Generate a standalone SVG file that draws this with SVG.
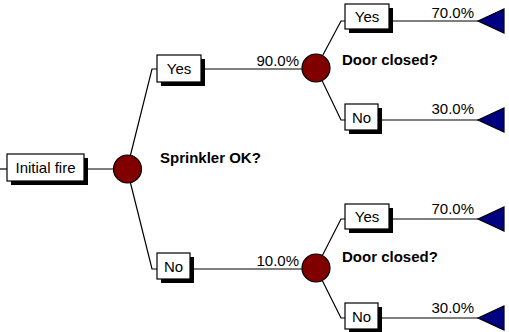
<svg xmlns="http://www.w3.org/2000/svg" width="509" height="332" viewBox="0 0 509 332">
<style>
.ln{stroke:#000;stroke-width:1.2;fill:none}
.sh{fill:#000}
.bx{fill:#fff;stroke:#000;stroke-width:1.2}
.t{font-family:"Liberation Sans",Arial,sans-serif;font-size:15px;fill:#000}
.c{text-anchor:middle}
.r{text-anchor:end}
.b{font-weight:bold}
.ch{fill:#800000;stroke:#000;stroke-width:1.2}
.tr{fill:#000080;stroke:#000;stroke-width:1.2}
</style>
<rect width="509" height="332" fill="#fff"/>
<g id="connectors">
<line class="ln" x1="0" y1="169" x2="7" y2="169"/>
<line class="ln" x1="84" y1="169" x2="127" y2="169"/>
<polyline class="ln" points="127,169 152,69 157,69"/>
<polyline class="ln" points="127,169 152,269 157,269"/>
<line class="ln" x1="201" y1="69" x2="316" y2="69"/>
<line class="ln" x1="190" y1="269" x2="316" y2="269"/>
<polyline class="ln" points="316,68 341,21 345,21"/>
<polyline class="ln" points="316,68 341,120 345,120"/>
<polyline class="ln" points="316,268 341,219 345,219"/>
<polyline class="ln" points="316,268 341,318 345,318"/>
<line class="ln" x1="389" y1="21" x2="478" y2="21"/>
<line class="ln" x1="378" y1="120" x2="478" y2="120"/>
<line class="ln" x1="389" y1="219" x2="478" y2="219"/>
<line class="ln" x1="378" y1="318" x2="478" y2="318"/>
<text class="t r" x="299" y="66">90.0%</text>
<text class="t r" x="299" y="266">10.0%</text>
<text class="t r" x="474" y="18">70.0%</text>
<text class="t r" x="474" y="114">30.0%</text>
<text class="t r" x="474" y="214">70.0%</text>
<text class="t r" x="474" y="313">30.0%</text>
</g>
<g id="initial">
<rect class="sh" x="11" y="158" width="77" height="27"/>
<rect class="bx" x="7" y="154" width="77" height="27"/>
<text class="t c" x="45.5" y="173">Initial fire</text>
</g>
<g id="sprinkler">
<circle class="ch" cx="127.5" cy="169" r="14"/>
<text class="t b" x="160" y="163">Sprinkler OK?</text>
</g>
<g id="yes1">
<rect class="sh" x="161" y="59" width="44" height="27"/>
<rect class="bx" x="157" y="55" width="44" height="27"/>
<text class="t c" x="179" y="74">Yes</text>
</g>
<g id="no1">
<rect class="sh" x="161" y="257" width="33" height="26"/>
<rect class="bx" x="157" y="253" width="33" height="26"/>
<text class="t c" x="173.5" y="271.5">No</text>
</g>
<g id="door1">
<circle class="ch" cx="316" cy="68" r="14"/>
<text class="t b" x="342" y="65">Door closed?</text>
</g>
<g id="door2">
<circle class="ch" cx="316" cy="268" r="14"/>
<text class="t b" x="342" y="262">Door closed?</text>
</g>
<g id="yes2">
<rect class="sh" x="349" y="8" width="44" height="25"/>
<rect class="bx" x="345" y="4" width="44" height="25"/>
<text class="t c" x="367" y="22">Yes</text>
</g>
<g id="no2">
<rect class="sh" x="349" y="108" width="33" height="26"/>
<rect class="bx" x="345" y="104" width="33" height="26"/>
<text class="t c" x="361.5" y="122.5">No</text>
</g>
<g id="yes3">
<rect class="sh" x="349" y="208" width="44" height="25"/>
<rect class="bx" x="345" y="204" width="44" height="25"/>
<text class="t c" x="367" y="222">Yes</text>
</g>
<g id="no3">
<rect class="sh" x="349" y="307" width="33" height="26"/>
<rect class="bx" x="345" y="303" width="33" height="26"/>
<text class="t c" x="361.5" y="321.5">No</text>
</g>
<g id="end1"><polygon class="tr" points="478,21 504,9 504,33"/></g>
<g id="end2"><polygon class="tr" points="478,120 504,108 504,132"/></g>
<g id="end3"><polygon class="tr" points="478,219 504,207 504,231"/></g>
<g id="end4"><polygon class="tr" points="478,318 504,306 504,330"/></g>
</svg>
